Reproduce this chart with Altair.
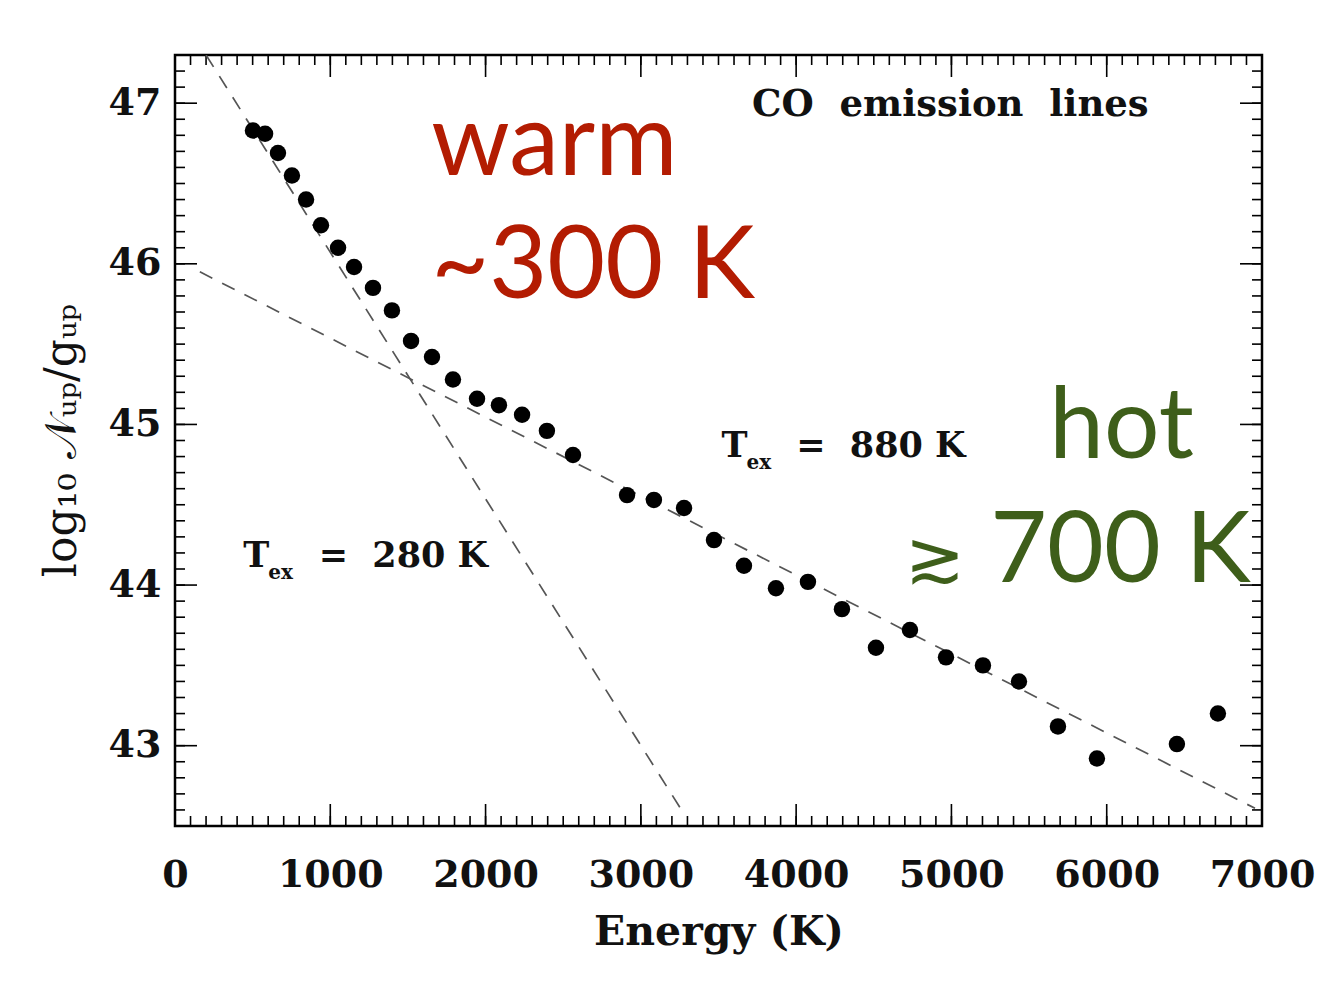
import altair as alt
import pandas as pd

# ---- data ----
energy = [502, 580, 663, 753, 844, 940, 1050, 1153, 1275, 1397, 1520, 1655, 1790,
          1945, 2086, 2235, 2395, 2563, 2911, 3084, 3278, 3471, 3664, 3870, 4076,
          4295, 4514, 4733, 4965, 5203, 5435, 5686, 5937, 6452, 6716]
log_n = [46.83, 46.81, 46.69, 46.55, 46.40, 46.24, 46.10, 45.98, 45.85, 45.71,
         45.52, 45.42, 45.28, 45.16, 45.12, 45.06, 44.96, 44.81, 44.56, 44.53,
         44.48, 44.28, 44.12, 43.98, 44.02, 43.85, 43.61, 43.72, 43.55, 43.50,
         43.40, 43.12, 42.92, 43.01, 43.20]

warm_fit_x = [200, 3255]
warm_fit_y = [47.30, 42.61]
hot_fit_x = [160, 6955]
hot_fit_y = [45.95, 42.61]

x_major = [0, 1000, 2000, 3000, 4000, 5000, 6000, 7000]
y_major = [43, 44, 45, 46, 47]
x_minor = list(range(0, 7001, 100))
y_minor = [round(42.5 + 0.1 * i, 1) for i in range(49)]

W, H = 1087, 771
XD = [0, 7000]
YD = [42.5, 47.3]

pts = pd.DataFrame({"E": energy, "N": log_n})
fits = pd.DataFrame({
    "E": warm_fit_x + hot_fit_x,
    "N": warm_fit_y + hot_fit_y,
    "fit": ["warm", "warm", "hot", "hot"],
})

xs = alt.Scale(domain=XD, nice=False, zero=False)
ys = alt.Scale(domain=YD, nice=False, zero=False)

SERIF = "DejaVu Serif"
SP = "\u00a0"

points = alt.Chart(pts).mark_circle(size=270, color="black", opacity=1).encode(
    x=alt.X("E:Q", scale=xs,
            axis=alt.Axis(values=x_major, format="d", title="Energy (K)", grid=False,
                          ticks=False, domain=False, labelFont=SERIF, labelFontSize=38,
                          labelFontWeight="bold", labelColor="#111111", labelPadding=30,
                          labelFlush=False, titleFont=SERIF, titleFontSize=41,
                          titleFontWeight="bold", titleColor="#111111", titleY=106,
                          titleBaseline="middle")),
    y=alt.Y("N:Q", scale=ys,
            axis=alt.Axis(values=y_major, format="d", title="log₁₀ 𝒩ᵤₚ/gᵤₚ", grid=False,
                          ticks=False, domain=False, labelFont=SERIF, labelFontSize=38,
                          labelFontWeight="bold", labelColor="#111111", labelPadding=14,
                          labelFlush=False, titleFont=SERIF, titleFontSize=44,
                          titleFontWeight="normal", titleColor="#111111", titleX=-113,
                          titleY=385, titleAngle=270, titleAlign="center",
                          titleBaseline="middle")),
)

lines = alt.Chart(fits).mark_line(color="#555555", strokeWidth=1.7,
                                  strokeDash=[14, 11], clip=True).encode(
    x=alt.X("E:Q", scale=xs), y=alt.Y("N:Q", scale=ys), detail="fit:N")

def ticks_x(vals, L):
    df = pd.DataFrame({"v": vals})
    b = alt.Chart(df).mark_rule(color="black", strokeWidth=1.6).encode(
        x=alt.X("v:Q", scale=xs), y=alt.value(H), y2=alt.value(H - L))
    t = alt.Chart(df).mark_rule(color="black", strokeWidth=1.6).encode(
        x=alt.X("v:Q", scale=xs), y=alt.value(0), y2=alt.value(L))
    return b + t

def ticks_y(vals, L):
    df = pd.DataFrame({"v": vals})
    l = alt.Chart(df).mark_rule(color="black", strokeWidth=1.6).encode(
        y=alt.Y("v:Q", scale=ys), x=alt.value(0), x2=alt.value(L))
    r = alt.Chart(df).mark_rule(color="black", strokeWidth=1.6).encode(
        y=alt.Y("v:Q", scale=ys), x=alt.value(W), x2=alt.value(W - L))
    return l + r

tick_layers = ticks_x(x_minor, 10) + ticks_x(x_major, 22) + ticks_y(y_minor, 10) + ticks_y(y_major, 22)

# ---- annotations ----
def label(texts, xv, yv, size, color, font, weight="normal", baseline="alphabetic"):
    df = pd.DataFrame({"t": texts, "E": xv, "N": yv})
    return alt.Chart(df).mark_text(align="left", baseline=baseline, fontSize=size,
                                   color=color, font=font, fontWeight=weight).encode(
        x=alt.X("E:Q", scale=xs), y=alt.Y("N:Q", scale=ys), text="t:N")

co = label([f"CO{SP}{SP}emission{SP}{SP}lines"], [3716], [46.92], 37, "#111111", SERIF, "bold")
tex_T = label(["T", "T"], [440, 3520], [44.11, 44.80], 35, "#111111", SERIF, "bold")
tex_sub = label(["ex", "ex"], [600, 3680], [44.04, 44.72], 20, "#111111", SERIF, "bold")
tex_val = label([f"={SP}{SP}280{SP}K", f"={SP}{SP}880{SP}K"], [925, 4000],
                [44.11, 44.80], 35, "#111111", SERIF, "bold")

RED = "#B31C02"
GREEN = "#3E5E1A"
warm = label(["warm", "~300 K"], [1650, 1650], [46.55, 45.785], 100, RED, "Lato")
hot = label(["hot", "700 K"], [5630, 5250], [44.79, 44.016], 98, GREEN, "Lato")
approx = label(["≳"], [4700], [44.02], 72, GREEN, "DejaVu Sans")

chart = alt.layer(tick_layers, lines, points, co, tex_T, tex_sub, tex_val, warm, hot, approx).properties(
    width=W, height=H,
    autosize=alt.AutoSizeParams(type="none"),
    padding={"left": 167, "top": 47, "right": 73, "bottom": 160},
    background="white",
).configure_view(stroke="black", strokeWidth=2.5)

chart.save("out.html", embed_options={"renderer": "svg", "actions": False})
